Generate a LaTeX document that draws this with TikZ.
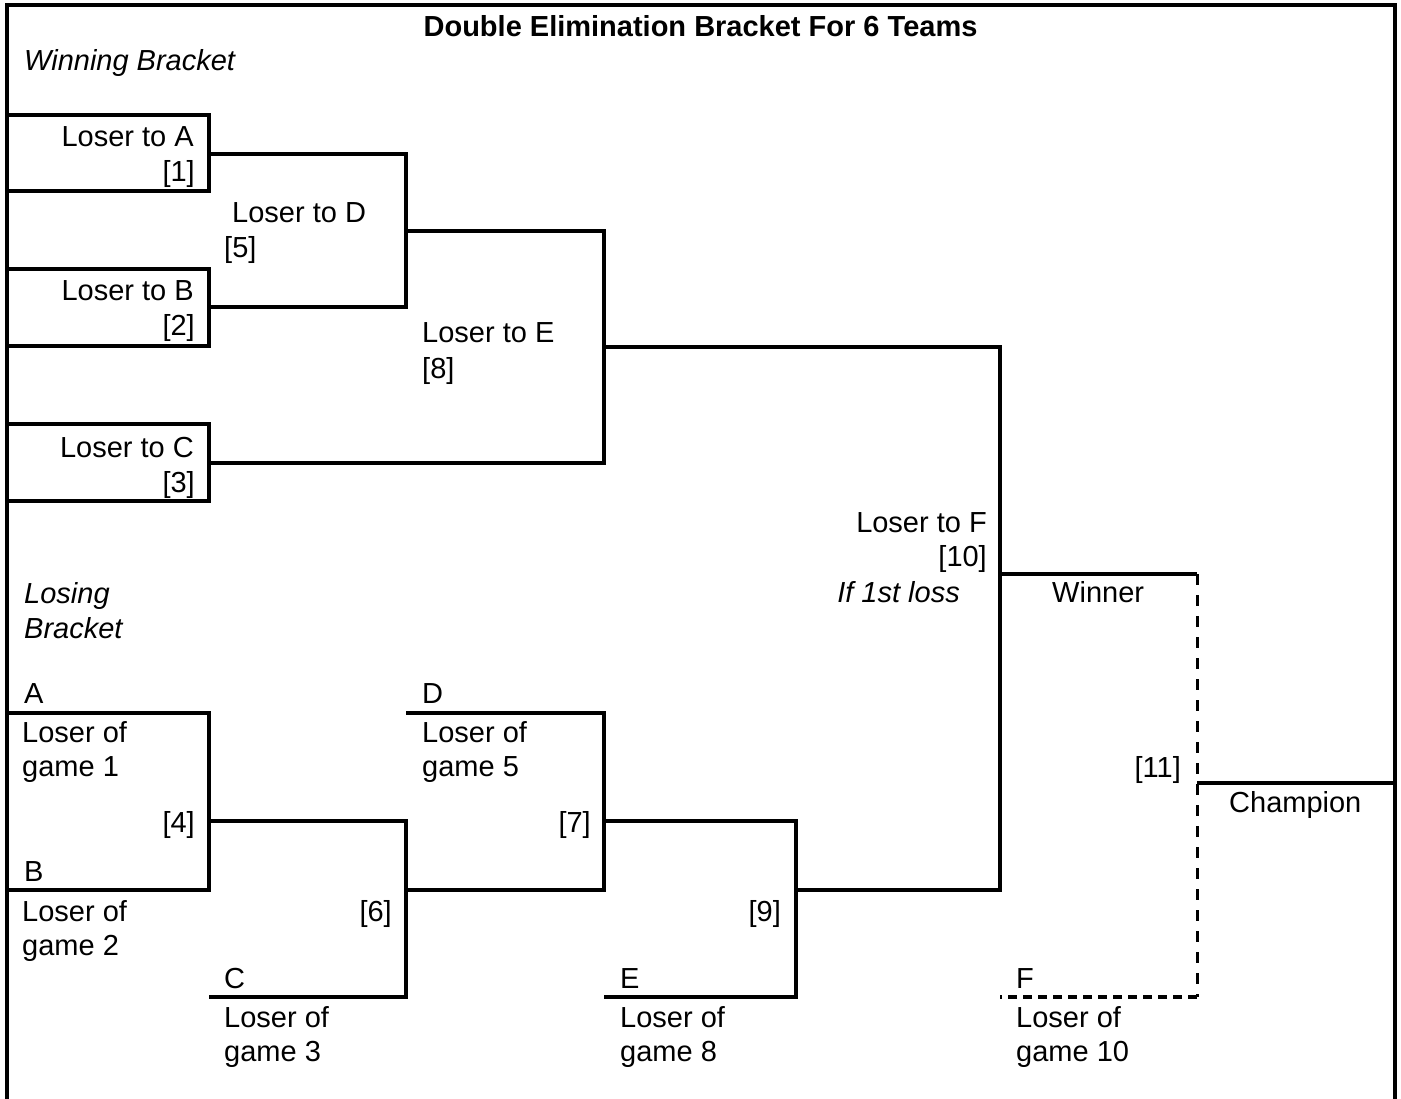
\documentclass[tikz,border=0pt]{standalone}
\usepackage{fontspec}
\setmainfont{Liberation Sans}
\begin{document}
\begin{tikzpicture}[x=1pt,y=-1pt,
  ln/.style={line width=4pt, line join=miter},
  dln/.style={line width=3pt, dash pattern=on 11pt off 10pt},
  dlnh/.style={line width=4pt, dash pattern=on 9pt off 6pt},
  txt/.style={inner sep=0pt, font=\fontsize{29}{35}\selectfont},
  itx/.style={txt, font=\fontsize{29}{35}\selectfont\itshape},
  L/.style={txt, anchor=base west},
  R/.style={txt, anchor=base east}]
\useasboundingbox (0,0) rectangle (1401,1099);
% frame
\coordinate (fbl) at (7,1102);
\coordinate (ftl) at (7,5);
\coordinate (ftr) at (1395,5);
\coordinate (fbr) at (1395,1102);
\draw[ln] (fbl) -- (ftl) -- (ftr) -- (fbr);
% winning bracket coordinates
\coordinate (a1) at (7,115);   \coordinate (a2) at (209,115);
\coordinate (a3) at (209,191); \coordinate (a4) at (7,191);
\coordinate (b1) at (7,269);   \coordinate (b2) at (209,269);
\coordinate (b3) at (209,346); \coordinate (b4) at (7,346);
\coordinate (c1) at (7,424);   \coordinate (c2) at (209,424);
\coordinate (c3) at (209,501); \coordinate (c4) at (7,501);
\coordinate (g5a) at (209,154); \coordinate (g5b) at (406,154);
\coordinate (g5c) at (406,307); \coordinate (g5d) at (209,307);
\coordinate (g8a) at (406,231); \coordinate (g8b) at (604,231);
\coordinate (g8c) at (604,463); \coordinate (g8d) at (209,463);
\coordinate (g10a) at (604,347); \coordinate (g10b) at (1000,347);
\coordinate (g10c) at (1000,890); \coordinate (g10d) at (796,890);
\coordinate (w1) at (1000,574); \coordinate (w2) at (1197,574);
\coordinate (w3) at (1197,997); \coordinate (w4) at (1000,997);
\coordinate (ch1) at (1197,783); \coordinate (ch2) at (1395,783);
% losing bracket coordinates
\coordinate (l4a) at (7,713);  \coordinate (l4b) at (209,713);
\coordinate (l4c) at (209,890); \coordinate (l4d) at (7,890);
\coordinate (l6a) at (209,821); \coordinate (l6b) at (406,821);
\coordinate (l6c) at (406,997); \coordinate (l6d) at (209,997);
\coordinate (l7a) at (406,713); \coordinate (l7b) at (604,713);
\coordinate (l7c) at (604,890); \coordinate (l7d) at (406,890);
\coordinate (l9a) at (604,821); \coordinate (l9b) at (796,821);
\coordinate (l9c) at (796,997); \coordinate (l9d) at (604,997);
% winning bracket lines
\draw[ln] (a1) -- (a2) -- (a3) -- (a4);
\draw[ln] (b1) -- (b2) -- (b3) -- (b4);
\draw[ln] (c1) -- (c2) -- (c3) -- (c4);
\draw[ln] (g5a) -- (g5b) -- (g5c) -- (g5d);
\draw[ln] (g8a) -- (g8b) -- (g8c) -- (g8d);
\draw[ln] (g10a) -- (g10b) -- (g10c) -- (g10d);
\draw[ln] (w1) -- (w2);
\draw[dln] (w2) -- (w3);
\draw[dlnh] (w3) -- (w4);
\draw[ln] (ch1) -- (ch2);
% losing bracket lines
\draw[ln] (l4a) -- (l4b) -- (l4c) -- (l4d);
\draw[ln] (l6a) -- (l6b) -- (l6c) -- (l6d);
\draw[ln] (l7a) -- (l7b) -- (l7c) -- (l7d);
\draw[ln] (l9a) -- (l9b) -- (l9c) -- (l9d);
% texts
\node[txt, anchor=base, font=\fontsize{29}{35}\selectfont\bfseries] (title) at (700.5,37) {Double Elimination Bracket For 6 Teams};
\node[itx, anchor=base west] (wb) at (24,71) {Winning Bracket};
\node[R] (tA) at (194,147) {Loser to A};
\node[R] (n1) at (195,182) {[1]};
\node[L] (tD) at (232,223) {Loser to D};
\node[L] (n5) at (224,258) {[5]};
\node[R] (tB) at (194,301) {Loser to B};
\node[R] (n2) at (195,336) {[2]};
\node[L] (tE) at (422,343) {Loser to E};
\node[L] (n8) at (422,378) {[8]};
\node[R] (tC) at (194,457) {Loser to C};
\node[R] (n3) at (195,492) {[3]};
\node[R] (tF) at (987,532) {Loser to F};
\node[R] (n10) at (987,566) {[10]};
\node[itx, anchor=base east] (ifl) at (960,602) {If 1st loss};
\node[L] (win) at (1052,602) {Winner};
\node[R] (n11) at (1181,777) {[11]};
\node[L] (champ) at (1229,812) {Champion};
\node[itx, anchor=base west] (lb1) at (24,603) {Losing};
\node[itx, anchor=base west] (lb2) at (24,638) {Bracket};
\node[L] (lA) at (24,703) {A};
\node[L] (sA1) at (22,742) {Loser of};
\node[L] (sA2) at (22,776) {game 1};
\node[R] (n4) at (195,832) {[4]};
\node[L] (lB) at (24,881) {B};
\node[L] (sB1) at (22,921) {Loser of};
\node[L] (sB2) at (22,955) {game 2};
\node[R] (n6) at (392,921) {[6]};
\node[L] (lC) at (224,988) {C};
\node[L] (sC1) at (224,1027) {Loser of};
\node[L] (sC2) at (224,1061) {game 3};
\node[L] (lD) at (422,703) {D};
\node[L] (sD1) at (422,742) {Loser of};
\node[L] (sD2) at (422,776) {game 5};
\node[R] (n7) at (591,832) {[7]};
\node[L] (lE) at (620,988) {E};
\node[L] (sE1) at (620,1027) {Loser of};
\node[L] (sE2) at (620,1061) {game 8};
\node[R] (n9) at (781,921) {[9]};
\node[L] (lF) at (1016,988) {F};
\node[L] (sF1) at (1016,1027) {Loser of};
\node[L] (sF2) at (1016,1061) {game 10};
\end{tikzpicture}
\end{document}
